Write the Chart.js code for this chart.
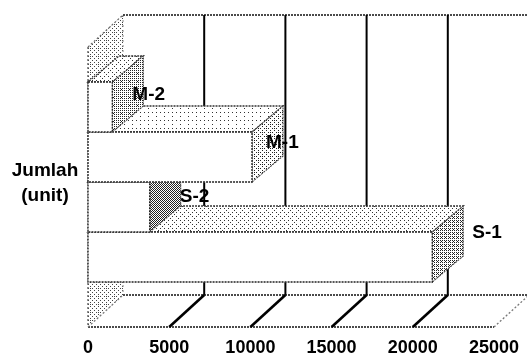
<!DOCTYPE html>
<html>
<head>
<meta charset="utf-8">
<script src="https://cdn.jsdelivr.net/npm/chart.js@4/dist/chart.umd.min.js"></script>
<style>
  html, body { margin: 0; padding: 0; background: #fff; }
  #wrap { width: 527px; height: 356px; }
</style>
</head>
<body>
<div id="wrap"><canvas id="c" width="527" height="356"></canvas></div>
<script>
// Units per group, top to bottom
const categories = ['M-2', 'M-1', 'S-2', 'S-1'];
const jumlahUnit = [1500, 10100, 3800, 21200];
const valueTicks = [0, 5000, 10000, 15000, 20000, 25000];
const axisTitle = ['Jumlah', '(unit)'];

const FONT = '"Liberation Sans", Arial, sans-serif';

// ordered-dither matrix for stippled fills
function bayer(n) {
  if (n === 1) return [[0]];
  const h = bayer(n / 2), m = [];
  for (let y = 0; y < n; y++) {
    m.push([]);
    for (let x = 0; x < n; x++) {
      const q = h[y % (n / 2)][x % (n / 2)] * 4;
      const add = (y < n / 2 ? (x < n / 2 ? 0 : 2) : (x < n / 2 ? 3 : 1));
      m[y].push(q + add);
    }
  }
  return m;
}
const DITHER = bayer(8);
function stipple(ctx, density, color) {
  const c = document.createElement('canvas');
  c.width = c.height = 8;
  const g = c.getContext('2d');
  g.fillStyle = '#fff';
  g.fillRect(0, 0, 8, 8);
  g.fillStyle = color;
  for (let y = 0; y < 8; y++)
    for (let x = 0; x < 8; x++)
      if ((DITHER[y][x] + 0.5) / 64 < density) g.fillRect(x, y, 1, 1);
  return ctx.createPattern(c, 'repeat');
}

function poly(ctx, pts, fill, stroke, dash, lw) {
  ctx.beginPath();
  ctx.moveTo(pts[0][0], pts[0][1]);
  for (let i = 1; i < pts.length; i++) ctx.lineTo(pts[i][0], pts[i][1]);
  ctx.closePath();
  if (fill) { ctx.fillStyle = fill; ctx.fill(); }
  if (stroke) {
    ctx.setLineDash(dash || []);
    ctx.lineWidth = lw || 1;
    ctx.strokeStyle = stroke;
    ctx.stroke();
    ctx.setLineDash([]);
  }
}
function seg(ctx, x1, y1, x2, y2, color, lw, dash) {
  ctx.beginPath();
  ctx.setLineDash(dash || []);
  ctx.lineWidth = lw;
  ctx.strokeStyle = color;
  ctx.moveTo(x1, y1);
  ctx.lineTo(x2, y2);
  ctx.stroke();
  ctx.setLineDash([]);
}

// depth of the box (walls) and of the bars, in pixels
const WALL = { dx: 35, dy: -32 };
const BAR = { dx: 31, dy: -26 };
const sideShade = [0.26, 0.15, 0.50, 0.32];
const topShade = [0.10, 0.04, 0.08, 0.09];
// where each bar's name sits relative to the bar end
const labelNudge = [[20, -12], [14, -14], [30, -10], [40, -24]];

function frame(chart) {
  const a = chart.chartArea;
  const band = (a.bottom - a.top) / categories.length;
  return { top: a.top - 0.7 * band, bottom: a.bottom + 0.9 * band };
}

const depth3d = {
  id: 'depth3d',
  beforeDatasetsDraw(chart) {
    const { ctx, scales: { x } } = chart;
    const f = frame(chart);
    const x0 = x.getPixelForValue(valueTicks[0]);
    const x1 = x.getPixelForValue(valueTicks[valueTicks.length - 1]);
    const { dx, dy } = WALL;
    ctx.save();
    // side wall at zero
    poly(ctx, [[x0, f.top], [x0 + dx, f.top + dy], [x0 + dx, f.bottom + dy], [x0, f.bottom]],
      stipple(ctx, 0.14, '#444'));
    seg(ctx, x0, f.top, x0 + dx, f.top + dy, '#666', 1.2, [2, 2]);
    seg(ctx, x0, f.top, x0, f.bottom, '#555', 1.3, [2, 2]);
    seg(ctx, x0 + dx, f.top + dy, x0 + dx, f.bottom + dy, '#888', 1, [2, 3]);
    // back wall: top edge and value gridlines
    seg(ctx, x0 + dx, f.top + dy, x1 + dx, f.top + dy, '#111', 1.6, [2, 1]);
    valueTicks.forEach((v, i) => {
      if (i === 0 || i === valueTicks.length - 1) return;
      const px = x.getPixelForValue(v) + dx;
      seg(ctx, px, f.top + dy, px, f.bottom + dy, '#000', 2);
    });
    // floor
    seg(ctx, x0 + dx, f.bottom + dy, x1 + dx, f.bottom + dy, '#111', 1.6, [2, 1]);
    seg(ctx, x0, f.bottom, x1, f.bottom, '#111', 1.6, [2, 1]);
    valueTicks.forEach((v, i) => {
      const px = x.getPixelForValue(v);
      const edge = (i === 0 || i === valueTicks.length - 1);
      seg(ctx, px, f.bottom, px + dx, f.bottom + dy, edge ? '#777' : '#000', edge ? 1.3 : 2.6, edge ? [2, 2] : []);
    });
    ctx.restore();
  },
  afterDatasetsDraw(chart) {
    const { ctx } = chart;
    const meta = chart.getDatasetMeta(0);
    const { dx, dy } = BAR;
    ctx.save();
    // lower bars first so the ones above rest on them
    for (let i = meta.data.length - 1; i >= 0; i--) {
      const el = meta.data[i];
      const p = el.getProps(['x', 'y', 'base', 'height'], true);
      const t = p.y - p.height / 2, b = p.y + p.height / 2;
      poly(ctx, [[p.base, t], [p.x, t], [p.x + dx, t + dy], [p.base + dx, t + dy]],
        stipple(ctx, topShade[i], '#333'), '#333', [2, 1], 1.3);
      poly(ctx, [[p.x, t], [p.x + dx, t + dy], [p.x + dx, b + dy], [p.x, b]],
        stipple(ctx, sideShade[i], '#222'), '#444', [2, 1], 1.1);
      el.draw(ctx);
      poly(ctx, [[p.base, t], [p.x, t], [p.x, b], [p.base, b]], null, '#222', [2, 1], 1.4);
    }
    ctx.restore();
  },
  afterDraw(chart) {
    const { ctx, chartArea: a } = chart;
    const meta = chart.getDatasetMeta(0);
    ctx.save();
    ctx.fillStyle = '#000';
    ctx.font = 'bold 19px ' + FONT;
    ctx.textAlign = 'left';
    ctx.textBaseline = 'middle';
    meta.data.forEach((el, i) => {
      const p = el.getProps(['x', 'y'], true);
      ctx.fillText(categories[i], p.x + labelNudge[i][0], p.y + labelNudge[i][1]);
    });
    ctx.textAlign = 'center';
    const mid = (a.top + a.bottom) / 2;
    ctx.fillText(axisTitle[0], 45, mid - 11);
    ctx.fillText(axisTitle[1], 45, mid + 14);
    ctx.restore();
  }
};

new Chart(document.getElementById('c'), {
  type: 'bar',
  data: {
    labels: categories,
    datasets: [{
      data: jumlahUnit,
      backgroundColor: '#fff',
      borderWidth: 0,
      categoryPercentage: 1,
      barPercentage: 1
    }]
  },
  options: {
    indexAxis: 'y',
    responsive: false,
    animation: false,
    events: [],
    layout: { padding: { left: 88, right: 33, top: 82, bottom: 0 } },
    plugins: { legend: { display: false }, tooltip: { enabled: false } },
    scales: {
      x: {
        min: valueTicks[0],
        max: valueTicks[valueTicks.length - 1],
        afterBuildTicks: s => { s.ticks = valueTicks.map(v => ({ value: v })); },
        // labels sit below the floor's front edge
        afterFit: s => { s.height = 74; s.paddingLeft = 6; s.paddingRight = 26; },
        grid: { display: false, drawTicks: false },
        border: { display: false },
        ticks: {
          padding: 55,
          color: '#000',
          font: { family: FONT, size: 18, weight: 'bold' },
          callback: v => String(v),
          maxRotation: 0,
          autoSkip: false
        }
      },
      y: { display: false }
    }
  },
  plugins: [depth3d]
});
</script>
</body>
</html>
